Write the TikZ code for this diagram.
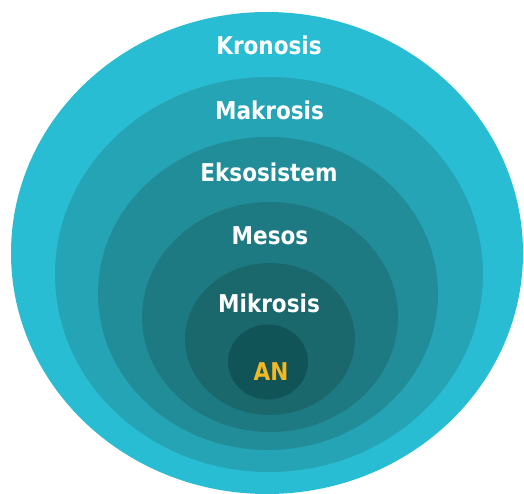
\documentclass[tikz,border=0pt]{standalone}
\usepackage{fontspec}
\setmainfont{DejaVu Sans}[FakeStretch=0.88]
\usetikzlibrary{positioning}
\definecolor{ringA}{RGB}{41,189,212}
\definecolor{ringB}{RGB}{36,164,181}
\definecolor{ringC}{RGB}{33,141,153}
\definecolor{ringD}{RGB}{30,122,130}
\definecolor{ringE}{RGB}{26,104,108}
\definecolor{ringF}{RGB}{17,84,88}
\definecolor{gold}{RGB}{245,184,32}

\begin{document}
\begin{tikzpicture}[x=1pt, y=-1pt, every node/.style={font=\bfseries\fontsize{24.5}{28}\selectfont, text=white, anchor=base}]
    \useasboundingbox (0,0) rectangle (524,494);
    % layers, outer to inner
    \foreach \cx/\cy/\rx/\ry/\col in {267/253/256/241/ringA, 269/274.5/214/197.5/ringB, 268/293.5/170/156.5/ringC,
                                     270/317/128/115/ringD, 270/339/85/76/ringE, 268/362/40/37.5/ringF} {
        \fill[\col] (\cx,\cy) ellipse [x radius=\rx, y radius=\ry];
    }
    \node (kronosis) at (269,55) {Kronosis};
    \node (makrosis) at (269.5,120) {Makrosis};
    \node (eksosistem) at (269,182) {Eksosistem};
    \node (mesos) at (270,244) {Mesos};
    \node (mikrosis) at (269,312) {Mikrosis};
    \node[text=gold] (anak) at (271,380) {AN};
\end{tikzpicture}
\end{document}
